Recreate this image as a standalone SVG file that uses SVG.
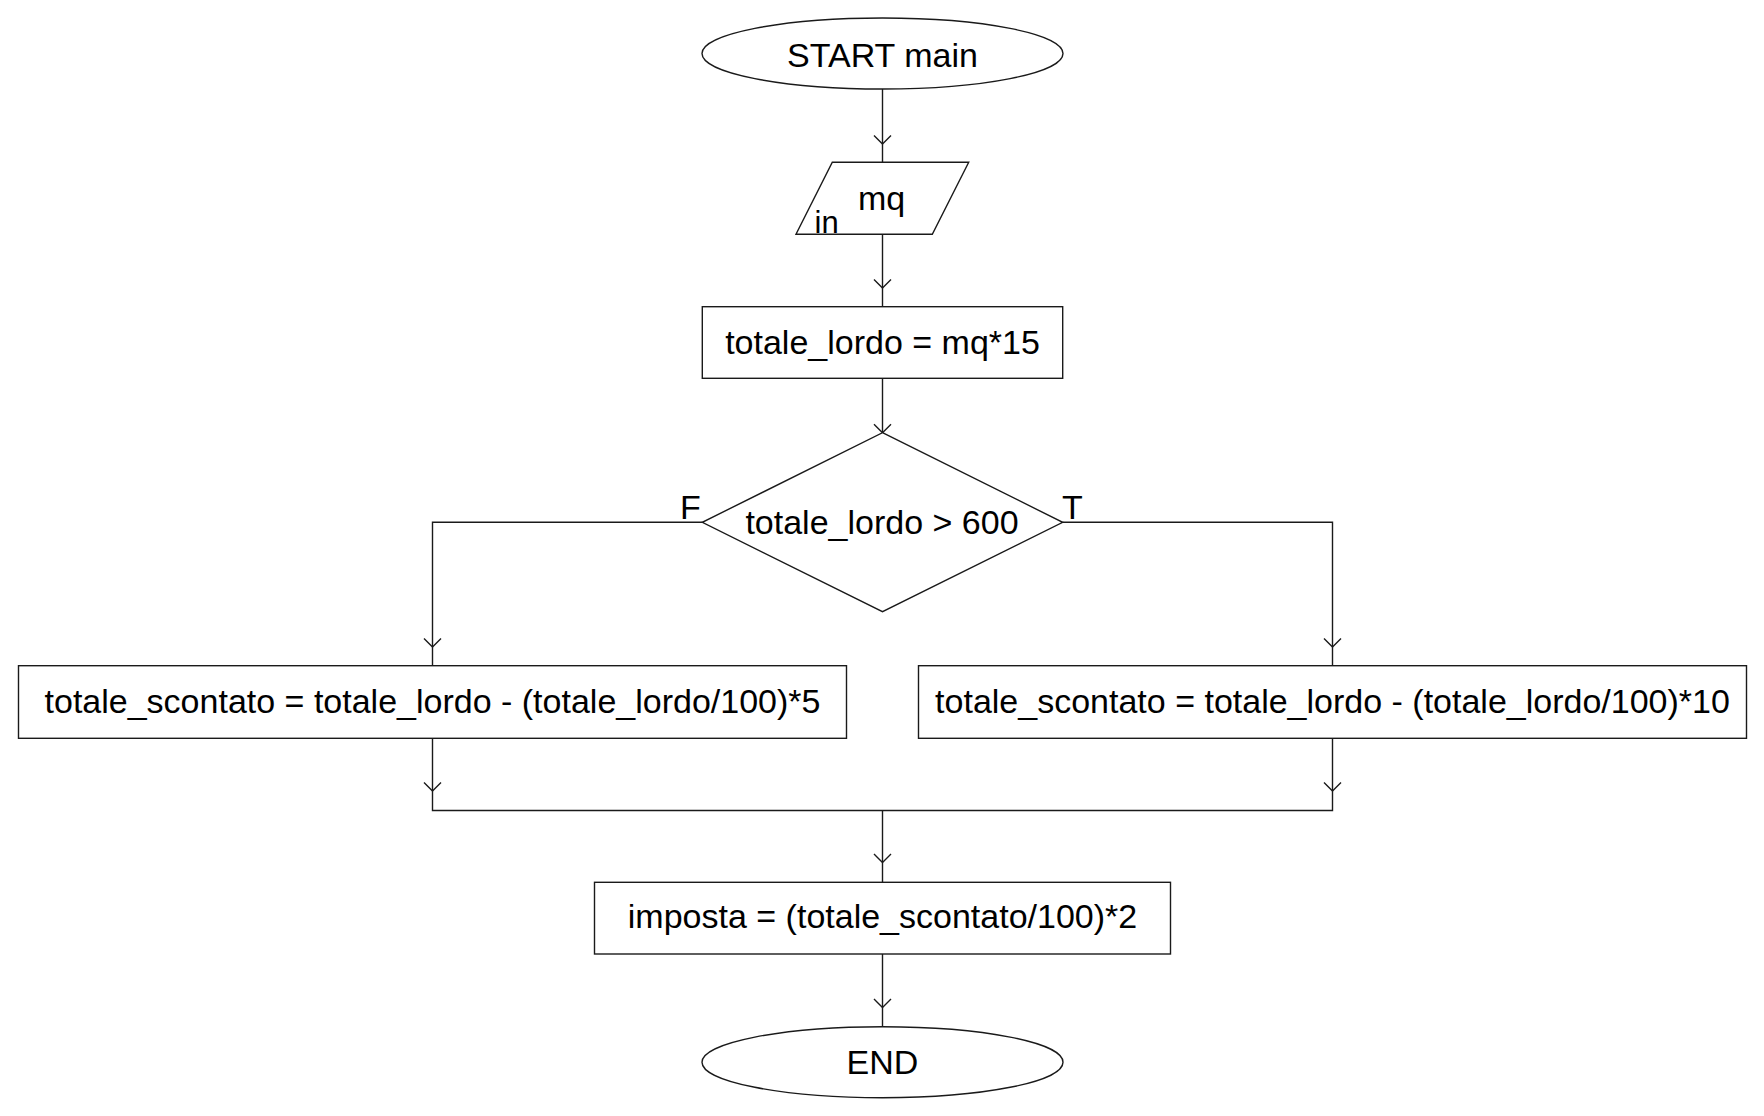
<svg xmlns="http://www.w3.org/2000/svg" xmlns:xlink="http://www.w3.org/1999/xlink" width="1764" height="1116" viewBox="0 0 1764 1116">
<style>
.shape{fill:#fff;stroke:#1a1a1a;stroke-width:1.4}
.conn{fill:none;stroke:#1a1a1a;stroke-width:1.4}
text{font-family:"Liberation Sans",Arial,sans-serif;font-size:34px;fill:#000}
.c{text-anchor:middle}
</style>
<defs>
<path id="ah" d="M-8.5,-8.5 L0,0 L8.5,-8.5" fill="none" stroke="#1a1a1a" stroke-width="1.4"/>
</defs>
<rect width="1764" height="1116" fill="#fff"/>
<g id="connectors">
<path class="conn" d="M882.5,89 V162.3"/>
<use xlink:href="#ah" x="882.5" y="144"/>
<path class="conn" d="M882.5,234.3 V306.7"/>
<use xlink:href="#ah" x="882.5" y="288"/>
<path class="conn" d="M882.5,378.3 V432.7"/>
<use xlink:href="#ah" x="882.5" y="432.7"/>
<path class="conn" d="M702.5,522.3 H432.5 V665.7"/>
<use xlink:href="#ah" x="432.5" y="647"/>
<path class="conn" d="M1062.5,522.3 H1332.5 V665.7"/>
<use xlink:href="#ah" x="1332.5" y="647"/>
<path class="conn" d="M432.5,738.3 V810.5 H1332.5 V738.3"/>
<use xlink:href="#ah" x="432.5" y="791"/>
<use xlink:href="#ah" x="1332.5" y="791"/>
<path class="conn" d="M882.5,810.5 V882.3"/>
<use xlink:href="#ah" x="882.5" y="862.5"/>
<path class="conn" d="M882.5,954 V1026.7"/>
<use xlink:href="#ah" x="882.5" y="1007.5"/>
<text x="680" y="519">F</text>
<text x="1062" y="519">T</text>
</g>
<g id="start">
<ellipse class="shape" cx="882.5" cy="53.5" rx="180.5" ry="35.5"/>
<text class="c" x="882.5" y="66.5">START main</text>
</g>
<g id="input_mq">
<polygon class="shape" points="832.3,162.3 968.7,162.3 932.3,234.3 796,234.3"/>
<text class="c" x="881.5" y="210">mq</text>
<text x="814.5" y="233.3" style="font-size:31px">in</text>
</g>
<g id="assign_totale_lordo">
<rect class="shape" x="702.3" y="306.7" width="360.4" height="71.6"/>
<text class="c" x="882.5" y="354">totale_lordo = mq*15</text>
</g>
<g id="decision">
<polygon class="shape" points="882.5,432.7 1062.7,522.3 882.5,611.7 702.3,522.3"/>
<text class="c" x="882" y="534.3">totale_lordo &gt; 600</text>
</g>
<g id="sconto_5">
<rect class="shape" x="18.5" y="665.7" width="828" height="72.6"/>
<text class="c" x="432.5" y="713.3">totale_scontato = totale_lordo - (totale_lordo/100)*5</text>
</g>
<g id="sconto_10">
<rect class="shape" x="918.5" y="665.7" width="828" height="72.6"/>
<text class="c" x="1332.5" y="713.3">totale_scontato = totale_lordo - (totale_lordo/100)*10</text>
</g>
<g id="imposta">
<rect class="shape" x="594.5" y="882.3" width="576" height="71.7"/>
<text class="c" x="882.5" y="928.3">imposta = (totale_scontato/100)*2</text>
</g>
<g id="end">
<ellipse class="shape" cx="882.5" cy="1062.2" rx="180.5" ry="35.5"/>
<text class="c" x="882.5" y="1074">END</text>
</g>
</svg>
